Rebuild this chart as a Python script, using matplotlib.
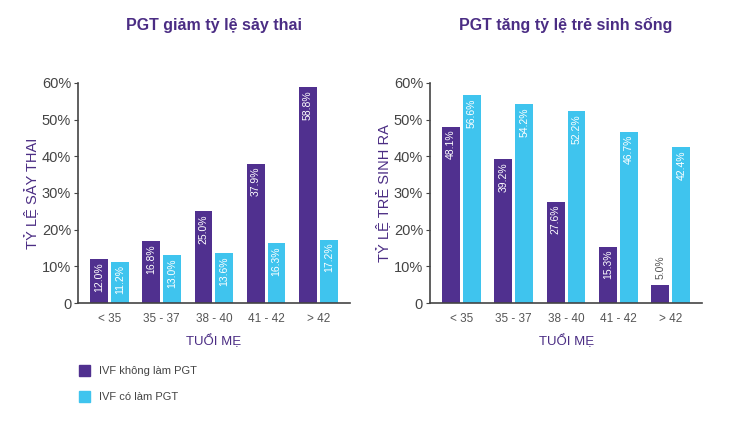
import matplotlib
matplotlib.use("Agg")
import matplotlib.pyplot as plt
from matplotlib.patches import Patch
import numpy as np

plt.rcParams['font.family'] = ['Liberation Sans', 'DejaVu Sans']

ages = ['< 35', '35 - 37', '38 - 40', '41 - 42', '> 42']
miscarriage_no_pgt = [12.0, 16.8, 25.0, 37.9, 58.8]
miscarriage_pgt = [11.2, 13.0, 13.6, 16.3, 17.2]
live_birth_no_pgt = [48.1, 39.2, 27.6, 15.3, 5.0]
live_birth_pgt = [56.6, 54.2, 52.2, 46.7, 42.4]
yticks = [0, 10, 20, 30, 40, 50, 60]
ytick_labels = ['0', '10%', '20%', '30%', '40%', '50%', '60%']
legend_labels = ['IVF không làm PGT', 'IVF có làm PGT']

PURPLE = '#50308f'
CYAN = '#3fc4ee'
TITLE_C = '#4b2d84'
GRAY = '#555555'


def draw(ax, a, b, title, ylabel):
    x = np.arange(len(ages))
    w = 0.34
    ax.bar(x - 0.2, a, w, color=PURPLE)
    ax.bar(x + 0.2, b, w, color=CYAN)
    for xi, v in zip(x, a):
        if v < 8:
            ax.text(xi - 0.2, v + 1.5, f'{v:.1f}%', rotation=90, ha='center',
                    va='bottom', color=GRAY, fontsize=7.5)
        else:
            ax.text(xi - 0.2, v - 0.8, f'{v:.1f}%', rotation=90, ha='center',
                    va='top', color='white', fontsize=7.5)
    for xi, v in zip(x, b):
        ax.text(xi + 0.2, v - 0.8, f'{v:.1f}%', rotation=90, ha='center',
                va='top', color='white', fontsize=7.5)
    ax.set_xlim(-0.6, 4.6)
    ax.set_ylim(0, 60)
    ax.set_yticks(yticks)
    ax.set_yticklabels(ytick_labels)
    ax.set_xticks(x)
    ax.set_xticklabels(ages)
    ax.tick_params(axis='x', length=0, colors=GRAY, labelsize=8.5, pad=7)
    ax.tick_params(axis='y', length=3, colors='#444444', labelsize=10.5, pad=2)
    for s in ['top', 'right']:
        ax.spines[s].set_visible(False)
    for s in ['left', 'bottom']:
        ax.spines[s].set_color('#444444')
        ax.spines[s].set_linewidth(1.2)
    ax.set_xlabel('TUỔI MẸ', color=TITLE_C, fontsize=9.5, labelpad=7)
    ax.set_ylabel(ylabel, color=TITLE_C, fontsize=10.5, labelpad=2)
    ax.set_title(title, color=TITLE_C, fontsize=11.5, fontweight='bold', pad=38)


fig = plt.figure(figsize=(7.3, 4.25), dpi=100)
ax1 = fig.add_axes([0.107, 0.287, 0.372, 0.518])
ax2 = fig.add_axes([0.589, 0.287, 0.373, 0.518])

draw(ax1, miscarriage_no_pgt, miscarriage_pgt, 'PGT giảm tỷ lệ sảy thai', 'TỶ LỆ SẢY THAI')
draw(ax2, live_birth_no_pgt, live_birth_pgt, 'PGT tăng tỷ lệ trẻ sinh sống', 'TỶ LỆ TRẺ SINH RA')

handles = [Patch(color=PURPLE), Patch(color=CYAN)]
fig.legend(handles, legend_labels, loc='upper left', bbox_to_anchor=(0.095, 0.165),
           frameon=False, fontsize=8, handlelength=1.0, handleheight=1.2,
           labelspacing=1.3, handletextpad=0.8, labelcolor='#444444')

fig.savefig('out.png', dpi=100)
